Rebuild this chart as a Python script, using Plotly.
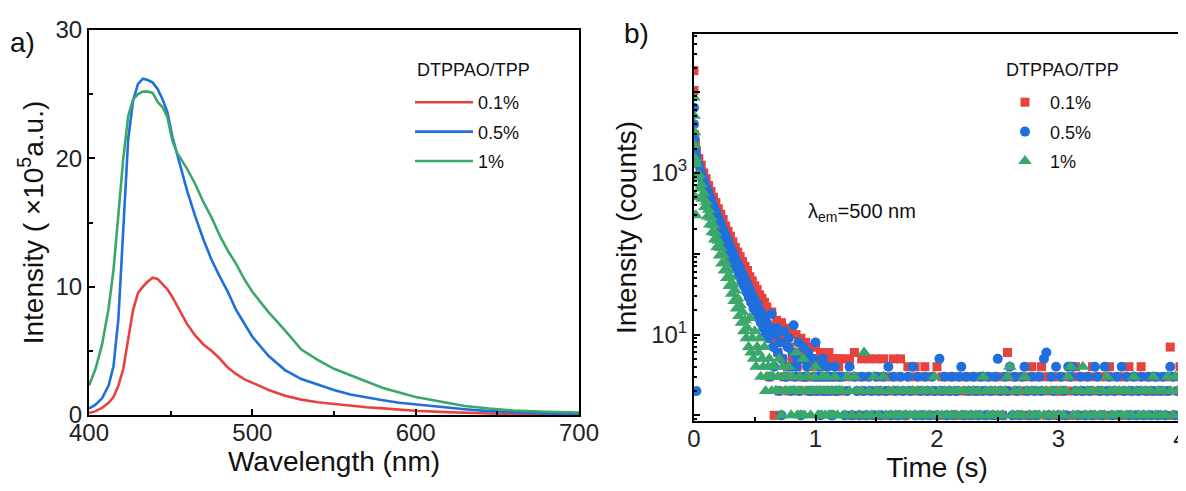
import plotly.graph_objects as go

# ---------------- panel a) steady-state PL spectra ----------------
wavelength = [400, 404, 408, 412, 415, 418, 421, 424, 427, 430, 433, 436, 439, 442,
              445, 448, 451, 454, 457, 460, 465, 470, 475, 480, 485, 490, 495, 500,
              510, 520, 530, 540, 550, 560, 570, 580, 590, 600, 615, 630, 645, 660,
              680, 700]

pl_01 = [0.15, 0.3, 0.55, 0.95, 1.4, 2.3, 3.6, 5.8, 8.2, 9.5, 10.0, 10.4, 10.7, 10.6,
         10.2, 9.8, 9.2, 8.5, 7.7, 7.1, 6.2, 5.5, 5.0, 4.4, 3.7, 3.2, 2.8, 2.5,
         1.95, 1.5, 1.2, 1.0, 0.85, 0.72, 0.6, 0.52, 0.42, 0.33, 0.24, 0.17, 0.12, 0.09,
         0.06, 0.05]

pl_05 = [0.5, 0.8, 1.3, 2.3, 3.8, 7.5, 14.5, 21.5, 24.5, 25.8, 26.2, 26.1, 25.9, 25.4,
         24.6, 23.6, 21.7, 20.2, 18.9, 17.5, 15.5, 13.7, 12.1, 10.8, 9.6, 8.2, 7.1, 6.1,
         4.6, 3.5, 2.8, 2.35, 1.95, 1.6, 1.35, 1.15, 0.95, 0.82, 0.62, 0.45, 0.3, 0.2,
         0.12, 0.08]

pl_1 = [2.3, 3.6, 5.5, 8.3, 11.3, 16.0, 20.0, 23.3, 24.6, 25.0, 25.2, 25.2, 25.1, 24.4,
        24.0, 23.2, 21.4, 20.4, 19.8, 19.2, 18.0, 16.6, 15.4, 14.0, 12.8, 11.8, 10.6, 9.6,
        8.0, 6.6, 5.1, 4.3, 3.6, 3.1, 2.6, 2.1, 1.75, 1.4, 1.05, 0.7, 0.5, 0.35,
        0.25, 0.2]

# ---------------- panel b) decay curves ----------------
# points stacked at the pulse (t ~ 0)
red_t0 = [0.0, 0.0, 0.005, 0.01]
red_c0 = [18500, 10500, 3000, 2400]
blue_t0 = [0.0, 0.0, 0.005, 0.01, 0.02]
blue_c0 = [6400, 4000, 2600, 2000, 2]
green_t0 = [0.0, 0.0, 0.005, 0.005, 0.01, 0.01, 0.015]
green_c0 = [8600, 5100, 3200, 2200, 900, 500, 300]

# decay part, t = 0.01 ... 1.20 s
t_decay = [round(0.01 * i, 2) for i in range(1, 121)]
red_decay = [2100, 1900, 1500, 1500, 1150, 1250, 950, 1000, 780, 850,
             650, 700, 540, 590, 450, 500, 390, 430, 330, 360,
             270, 310, 230, 265, 190, 220, 160, 190, 135, 165,
             115, 140, 100, 120, 85, 105, 75, 92, 64, 80,
             56, 70, 48, 62, 42, 52, 36, 46, 31, 40,
             27, 36, 24, 31, 20, 28, 18, 25, 15, 22,
             13, 3, 11, 19, 9, 1, 8, 15, 6, 2,
             9, 14, 5, 3, 8, 12, 4, 2, 7, 11,
             5, 3, 6, 10, 4, 2, 6, 9, 3, 3,
             5, 8, 3, 2, 4, 7, 2, 3, 5, 7,
             3, 2, 4, 6, 2, 3, 4, 5, 3, 2,
             6, 5, 2, 3, 5, 5, 3, 2, 4, 5]
blue_decay = [1800, 1600, 1300, 1250, 1000, 1000, 800, 820, 650, 680,
              520, 560, 430, 470, 360, 390, 300, 330, 250, 280,
              210, 235, 175, 200, 150, 170, 125, 145, 105, 122,
              88, 104, 75, 88, 64, 76, 54, 65, 46, 56,
              40, 48, 34, 42, 29, 36, 25, 31, 21, 27,
              19, 24, 16, 20, 14, 18, 12, 16, 10, 14,
              9, 3, 12, 18, 7, 4, 10, 12, 6, 2,
              8, 1, 5, 11, 3, 3, 7, 9, 4, 2,
              6, 13, 3, 4, 5, 8, 2, 1, 5, 7,
              3, 3, 4, 6, 2, 2, 5, 5, 3, 8,
              2, 3, 4, 1, 3, 5, 2, 2, 3, 4,
              2, 3, 1, 1, 3, 4, 2, 2, 3, 3]
green_decay = [1500, 1300, 900, 950, 640, 720, 480, 560, 380, 440,
               290, 350, 230, 280, 185, 225, 150, 180, 120, 145,
               95, 118, 76, 96, 62, 78, 50, 63, 40, 52,
               32, 42, 26, 35, 21, 28, 17, 23, 14, 19,
               11, 15, 9, 12, 7, 16, 6, 9, 5, 11,
               4, 7, 6, 9, 3, 5, 4, 7, 2, 3,
               4, 5, 3, 2, 3, 4, 2, 2, 3, 5,
               2, 1, 4, 3, 2, 2, 3, 4, 2, 1,
               3, 2, 2, 6, 1, 2, 3, 1, 2, 5,
               1, 2, 3, 3, 2, 1, 2, 2, 3, 4,
               2, 1, 2, 2, 1, 3, 2, 1, 3, 2,
               1, 1, 2, 2, 1, 3, 2, 1, 2, 2]

# background part, t = 1.22 ... 4.00 s
t_base = [round(1.22 + 0.02 * i, 2) for i in range(140)]
red_base = [5, 2, 3, 5, 1, 6, 3, 2, 5, 1,
            3, 5, 2, 1, 5, 3, 2, 5, 1, 3,
            2, 5, 1, 3, 5, 2, 1, 4, 3, 2,
            4, 1, 3, 2, 4, 1, 3, 2, 1, 4,
            2, 3, 1, 2, 3, 1, 2, 3, 1, 2,
            3, 1, 2, 3, 1, 2, 3, 2, 1, 3,
            1, 2, 3, 1, 2, 3, 1, 2, 6, 3,
            2, 1, 3, 2, 1, 3, 2, 1, 4, 3,
            1, 2, 4, 3, 1, 2, 3, 1, 2, 3,
            2, 1, 3, 2, 1, 3, 4, 2, 1, 3,
            2, 1, 3, 4, 2, 1, 3, 2, 1, 3,
            4, 2, 1, 3, 2, 1, 3, 2, 4, 1,
            3, 2, 1, 4, 3, 2, 1, 3, 2, 1,
            3, 2, 1, 3, 2, 7, 1, 3, 2, 4]
blue_base = [3, 1, 2, 4, 1, 3, 2, 1, 3, 2,
             1, 3, 2, 1, 3, 2, 1, 3, 2, 4,
             1, 3, 2, 1, 3, 2, 1, 3, 2, 4,
             1, 3, 2, 1, 3, 2, 1, 3, 2, 1,
             5, 2, 3, 1, 2, 3, 1, 2, 3, 4,
             1, 3, 2, 1, 3, 2, 1, 3, 2, 1,
             3, 2, 1, 3, 5, 2, 1, 3, 2, 4,
             1, 3, 2, 1, 3, 4, 2, 1, 3, 2,
             1, 3, 2, 5, 6, 1, 3, 2, 4, 1,
             3, 2, 1, 4, 3, 4, 2, 1, 3, 2,
             1, 3, 2, 1, 4, 3, 2, 1, 4, 2,
             3, 1, 2, 3, 1, 4, 2, 3, 1, 2,
             3, 1, 2, 3, 1, 2, 3, 1, 2, 3,
             1, 2, 3, 1, 2, 4, 3, 1, 2, 3]
green_base = [2, 1, 3, 2, 1, 3, 2, 1, 2, 6,
              1, 2, 1, 3, 2, 1, 2, 3, 1, 2,
              1, 2, 1, 2, 1, 2, 1, 2, 1, 2,
              1, 2, 1, 2, 1, 2, 1, 2, 3, 1,
              2, 1, 2, 1, 2, 1, 2, 1, 2, 1,
              2, 1, 2, 1, 2, 1, 2, 1, 3, 2,
              1, 2, 1, 2, 1, 2, 1, 2, 3, 4,
              1, 2, 1, 2, 1, 3, 2, 1, 2, 1,
              2, 1, 2, 1, 2, 1, 2, 1, 2, 1,
              2, 1, 2, 3, 4, 1, 2, 1, 2, 4,
              1, 2, 1, 2, 1, 2, 1, 2, 1, 3,
              2, 1, 2, 1, 2, 1, 2, 1, 2, 1,
              3, 2, 1, 2, 1, 2, 1, 2, 3, 1,
              2, 1, 2, 1, 3, 2, 1, 3, 2, 1]

labels = ["0.1%", "0.5%", "1%"]
line_colors = ["#E8423F", "#1F6FDC", "#3AA86A"]

FONT = "Liberation Sans, Arial, sans-serif"
# page body has an 8 px margin, so the figure is 8 px smaller than the window
OFF = 8
W, H = 1186 - OFF, 491 - OFF


def px_x(x):
    return (x - OFF) / W


def px_y(y):
    return 1 - (y - OFF) / H


fig = go.Figure()

for lab, col, vals in zip(labels, line_colors, [pl_01, pl_05, pl_1]):
    fig.add_trace(go.Scatter(x=wavelength, y=vals, mode="lines", name=lab,
                             line=dict(color=col, width=2.6),
                             legendgroup="a" + lab, legend="legend"))

series_b = [
    (red_t0 + t_decay + t_base, red_c0 + red_decay + red_base, "square", 9),
    (blue_t0 + t_decay + t_base, blue_c0 + blue_decay + blue_base, "circle", 10),
    (green_t0 + t_decay + t_base, green_c0 + green_decay + green_base, "triangle-up", 12),
]
for lab, col, (tt, cc, sym, sz) in zip(labels, line_colors, series_b):
    fig.add_trace(go.Scatter(x=tt, y=cc, mode="markers", name=lab,
                             marker=dict(color=col, symbol=sym, size=sz),
                             xaxis="x2", yaxis="y2",
                             legendgroup="b" + lab, legend="legend2"))

axis_common = dict(showline=True, linecolor="black", linewidth=2, mirror=True,
                   ticks="inside", ticklen=6, tickwidth=2, tickcolor="black",
                   showgrid=False, zeroline=False, automargin=False,
                   ticklabeloverflow="allow",
                   tickfont=dict(family=FONT, size=24, color="#222"),
                   title_font=dict(family=FONT, size=28, color="#111"))

legend_common = dict(xanchor="left", yanchor="top", bgcolor="rgba(0,0,0,0)",
                     font=dict(family=FONT, size=18, color="#111"),
                     tracegroupgap=3)

fig.update_layout(
    width=W, height=H,
    margin=dict(l=0, r=0, t=0, b=0),
    paper_bgcolor="white", plot_bgcolor="white",
    font=dict(family=FONT, color="#111"),
    xaxis=dict(domain=[px_x(89), px_x(579)], anchor="y", range=[400, 700], dtick=100,
               minor=dict(ticks="inside", ticklen=4, dtick=50, tickcolor="black"),
               ticklabelstandoff=-5,
               title=dict(text="Wavelength (nm)", standoff=5), **axis_common),
    yaxis=dict(domain=[px_y(415), px_y(30)], anchor="x", range=[0, 30], dtick=10,
               minor=dict(ticks="inside", ticklen=4, dtick=5, tickcolor="black"),
               title=dict(text="Intensity ( \u00d710<sup>5</sup>a.u.)", standoff=4),
               **axis_common),
    xaxis2=dict(domain=[px_x(694), px_x(1180)], anchor="y2", range=[0, 4], dtick=1,
                minor=dict(ticks="inside", ticklen=4, dtick=0.5, tickcolor="black"),
                ticklabelstandoff=-5,
                title=dict(text="Time (s)", standoff=3), **axis_common),
    yaxis2=dict(domain=[px_y(421), px_y(34)], anchor="x2", type="log",
                range=[-0.07, 4.72],
                tickmode="array", tickvals=[1, 10, 100, 1000, 10000],
                ticktext=["", "10<sup>1</sup>", "", "10<sup>3</sup>", ""],
                minor=dict(ticks="inside", ticklen=3, dtick="D1", tickcolor="black"),
                title=dict(text="Intensity (counts)", standoff=6), **axis_common),
    legend=dict(x=px_x(410), y=px_y(84), itemwidth=58, **legend_common),
    legend2=dict(x=px_x(1000), y=px_y(84), itemwidth=40, **legend_common),
    annotations=[
        dict(text="DTPPAO/TPP", x=px_x(415), y=px_y(70), xref="paper", yref="paper",
             xanchor="left", yanchor="middle", showarrow=False,
             font=dict(family=FONT, size=18, color="#111")),
        dict(text="DTPPAO/TPP", x=px_x(1004), y=px_y(70), xref="paper", yref="paper",
             xanchor="left", yanchor="middle", showarrow=False,
             font=dict(family=FONT, size=18, color="#111")),
        dict(text="a)", x=px_x(8), y=px_y(43), xref="paper", yref="paper",
             xanchor="left", yanchor="middle", showarrow=False,
             font=dict(family=FONT, size=28, color="#111")),
        dict(text="b)", x=px_x(622), y=px_y(33), xref="paper", yref="paper",
             xanchor="left", yanchor="middle", showarrow=False,
             font=dict(family=FONT, size=28, color="#111")),
        dict(text="\u03bb<sub>em</sub>=500 nm", x=px_x(806), y=px_y(212),
             xref="paper", yref="paper", xanchor="left", yanchor="middle",
             showarrow=False, font=dict(family=FONT, size=20, color="#111")),
    ],
)

fig.write_html("out.html")
